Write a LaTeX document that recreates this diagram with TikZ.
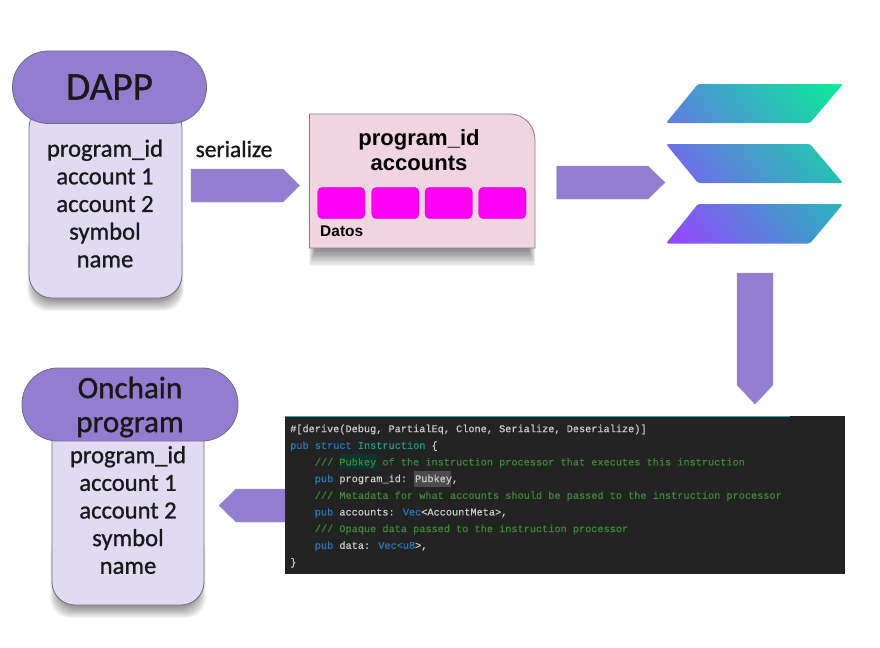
\documentclass[tikz,border=0pt]{standalone}
\usepackage{fontspec}
\usetikzlibrary{positioning, shadings}
\setmainfont{Liberation Sans}
\newfontfamily\bodyfont[FakeBold=1]{Carlito}
\newfontfamily\codefont[FakeBold=0.3]{Liberation Mono}
\definecolor{pillcolor}{RGB}{147, 125, 208}
\definecolor{bodycolor}{RGB}{224, 219, 243}
\definecolor{cardcolor}{RGB}{240, 212, 224}
\definecolor{edgecolor}{RGB}{112, 108, 135}
\definecolor{datacolor}{RGB}{255, 0, 245}
\definecolor{codebg}{RGB}{35, 35, 35}
\definecolor{codeplain}{RGB}{205, 205, 205}
\definecolor{codeblue}{RGB}{38, 118, 185}
\definecolor{codeteal}{RGB}{28, 155, 135}
\definecolor{codegreen}{RGB}{62, 135, 55}
\definecolor{solpurple}{RGB}{155, 65, 255}
\definecolor{solblue}{RGB}{80, 140, 218}
\definecolor{solteal}{RGB}{50, 165, 200}
\definecolor{solgreen}{RGB}{10, 238, 150}
\tikzset{
    bodybox/.style={draw=edgecolor, fill=bodycolor, line width=0.7pt, rounded corners=0.69cm},
    pillbox/.style={draw=edgecolor, fill=pillcolor, line width=0.7pt, rounded corners=1.08cm},
    blockarrow/.style={draw=edgecolor!70, fill=pillcolor, line width=0.4pt},
    databox/.style={draw=datacolor!85!black, fill=datacolor, line width=0.3pt, rounded corners=4pt},
    softshadow/.style={fill=black, opacity=0.04},
    bodytext/.style={font=\bodyfont\fontsize{21}{23.6}\selectfont, align=center, text=black!90},
    pilltext/.style={font=\bodyfont\fontsize{26.5}{29}\selectfont, align=center, text=black!90},
}
\begin{document}
\begin{tikzpicture}[x=0.03cm, y=-0.03cm]
    \useasboundingbox (0,0) rectangle (880,647);
    \fill[white] (0,0) rectangle (880,647);

    % Soft shadows
    \foreach \w in {0,...,14} {
        \fill[softshadow, rounded corners=0.6cm] ({37-0.7*\w},230) rectangle ({174+0.7*\w},{297+\w});
        \fill[softshadow, rounded corners=0.6cm] ({60-0.7*\w},530) rectangle ({196+0.7*\w},{604+\w});
        \fill[softshadow] ({316-0.5*\w},200) rectangle ({528+0.5*\w},{248+1.3*\w});
    }

    % DAPP
    \draw[bodybox] (29,105) rectangle (182,298);
    \draw[pillbox] (12.5,51) rectangle (206.5,123.5);
    \node[font=\bodyfont\fontsize{33.5}{36}\selectfont, text=black!90] (dapptitle) at (109.5,87) {DAPP};
    \node[bodytext] (dappfields) at (105,203.5) {program\_id\\account 1\\account 2\\symbol\\name};
    \node[font=\bodyfont\fontsize{20}{24}\selectfont, text=black!90] (serializelabel) at (234,149) {serialize};

    % Serialized instruction
    \draw[draw=black!50, fill=cardcolor, line width=0.7pt] (309.5,114) -- (510,114) to[out=0, in=90] (535,140) -- (535,248) -- (309.5,248) -- cycle;
    \node[font=\bfseries\fontsize{18.8}{21.4}\selectfont, align=center] (cardtitle) at (419,150) {program\_id\\accounts};
    \draw[databox] (317.7,187.3) rectangle (365,218.7);
    \draw[databox] (371.7,187.3) rectangle (419,218.7);
    \draw[databox] (425,187.3) rectangle (472.3,218.7);
    \draw[databox] (478.7,187.3) rectangle (526,218.7);
    \node[font=\bfseries\fontsize{13.2}{15}\selectfont, anchor=west, inner sep=0pt] (datalabel) at (320,231) {Datos};

    % Block arrows
    \draw[blockarrow] (191,169) -- (283,169) -- (299.5,185.5) -- (283,202) -- (191,202) -- cycle;
    \draw[blockarrow] (556.5,166) -- (648,166) -- (665,182.5) -- (648,199) -- (556.5,199) -- cycle;
    \draw[blockarrow] (737,273) -- (773,273) -- (773,385) -- (755,404) -- (737,385) -- cycle;
    \draw[blockarrow] (286,489) -- (236,489) -- (219,505.5) -- (236,522) -- (286,522) -- cycle;

    % Logo bars
    \begin{scope}
        \clip[rounded corners=2pt]
            (698,84) -- (843,84) -- (810,123) -- (666,123) -- cycle
            (666,144) -- (810,144) -- (843,183) -- (698,183) -- cycle
            (698,204) -- (843,204) -- (810,243.5) -- (666,243.5) -- cycle;
        \shade[lower left=solpurple, lower right=solteal, upper left=solblue, upper right=solgreen] (666,244) rectangle (843,84);
    \end{scope}

    % Onchain program
    \draw[bodybox] (52,415) rectangle (204,605);
    \draw[pillbox] (22,368) rectangle (238,441);
    \node[pilltext] (onchaintitle) at (130,407) {Onchain\\program};
    \node[bodytext] (onchainfields) at (128,510) {program\_id\\account 1\\account 2\\symbol\\name};

    % Code listing
    \fill[codebg] (285,416) rectangle (845,574);
    \fill[codeteal!70!cyan] (285,415.5) rectangle (790,417);
    \fill[black!65!codeteal] (339.5,454) rectangle (377,469);
    \fill[black!70!white] (413.5,471) rectangle (451,487);
    \node[font=\codefont\fontsize{8.74}{14.22}\selectfont, align=left, anchor=north west, inner sep=0pt, text=codeplain] (codelisting) at (290,424.5) {%
        \#[derive(Debug, PartialEq, Clone, Serialize, Deserialize)]\\
        \textcolor{codeblue}{pub struct} \textcolor{codeteal}{Instruction} \{\\
        \textcolor{codegreen}{\ \ \ \ /// Pubkey of the instruction processor that executes this instruction}\\
        \ \ \ \ \textcolor{codeblue}{pub} program\_id: Pubkey,\\
        \textcolor{codegreen}{\ \ \ \ /// Metadata for what accounts should be passed to the instruction processor}\\
        \ \ \ \ \textcolor{codeblue}{pub} accounts: \textcolor{codeblue}{Vec}<AccountMeta>,\\
        \textcolor{codegreen}{\ \ \ \ /// Opaque data passed to the instruction processor}\\
        \ \ \ \ \textcolor{codeblue}{pub} data: \textcolor{codeblue}{Vec<u8}>,\\
        \}};
\end{tikzpicture}
\end{document}
